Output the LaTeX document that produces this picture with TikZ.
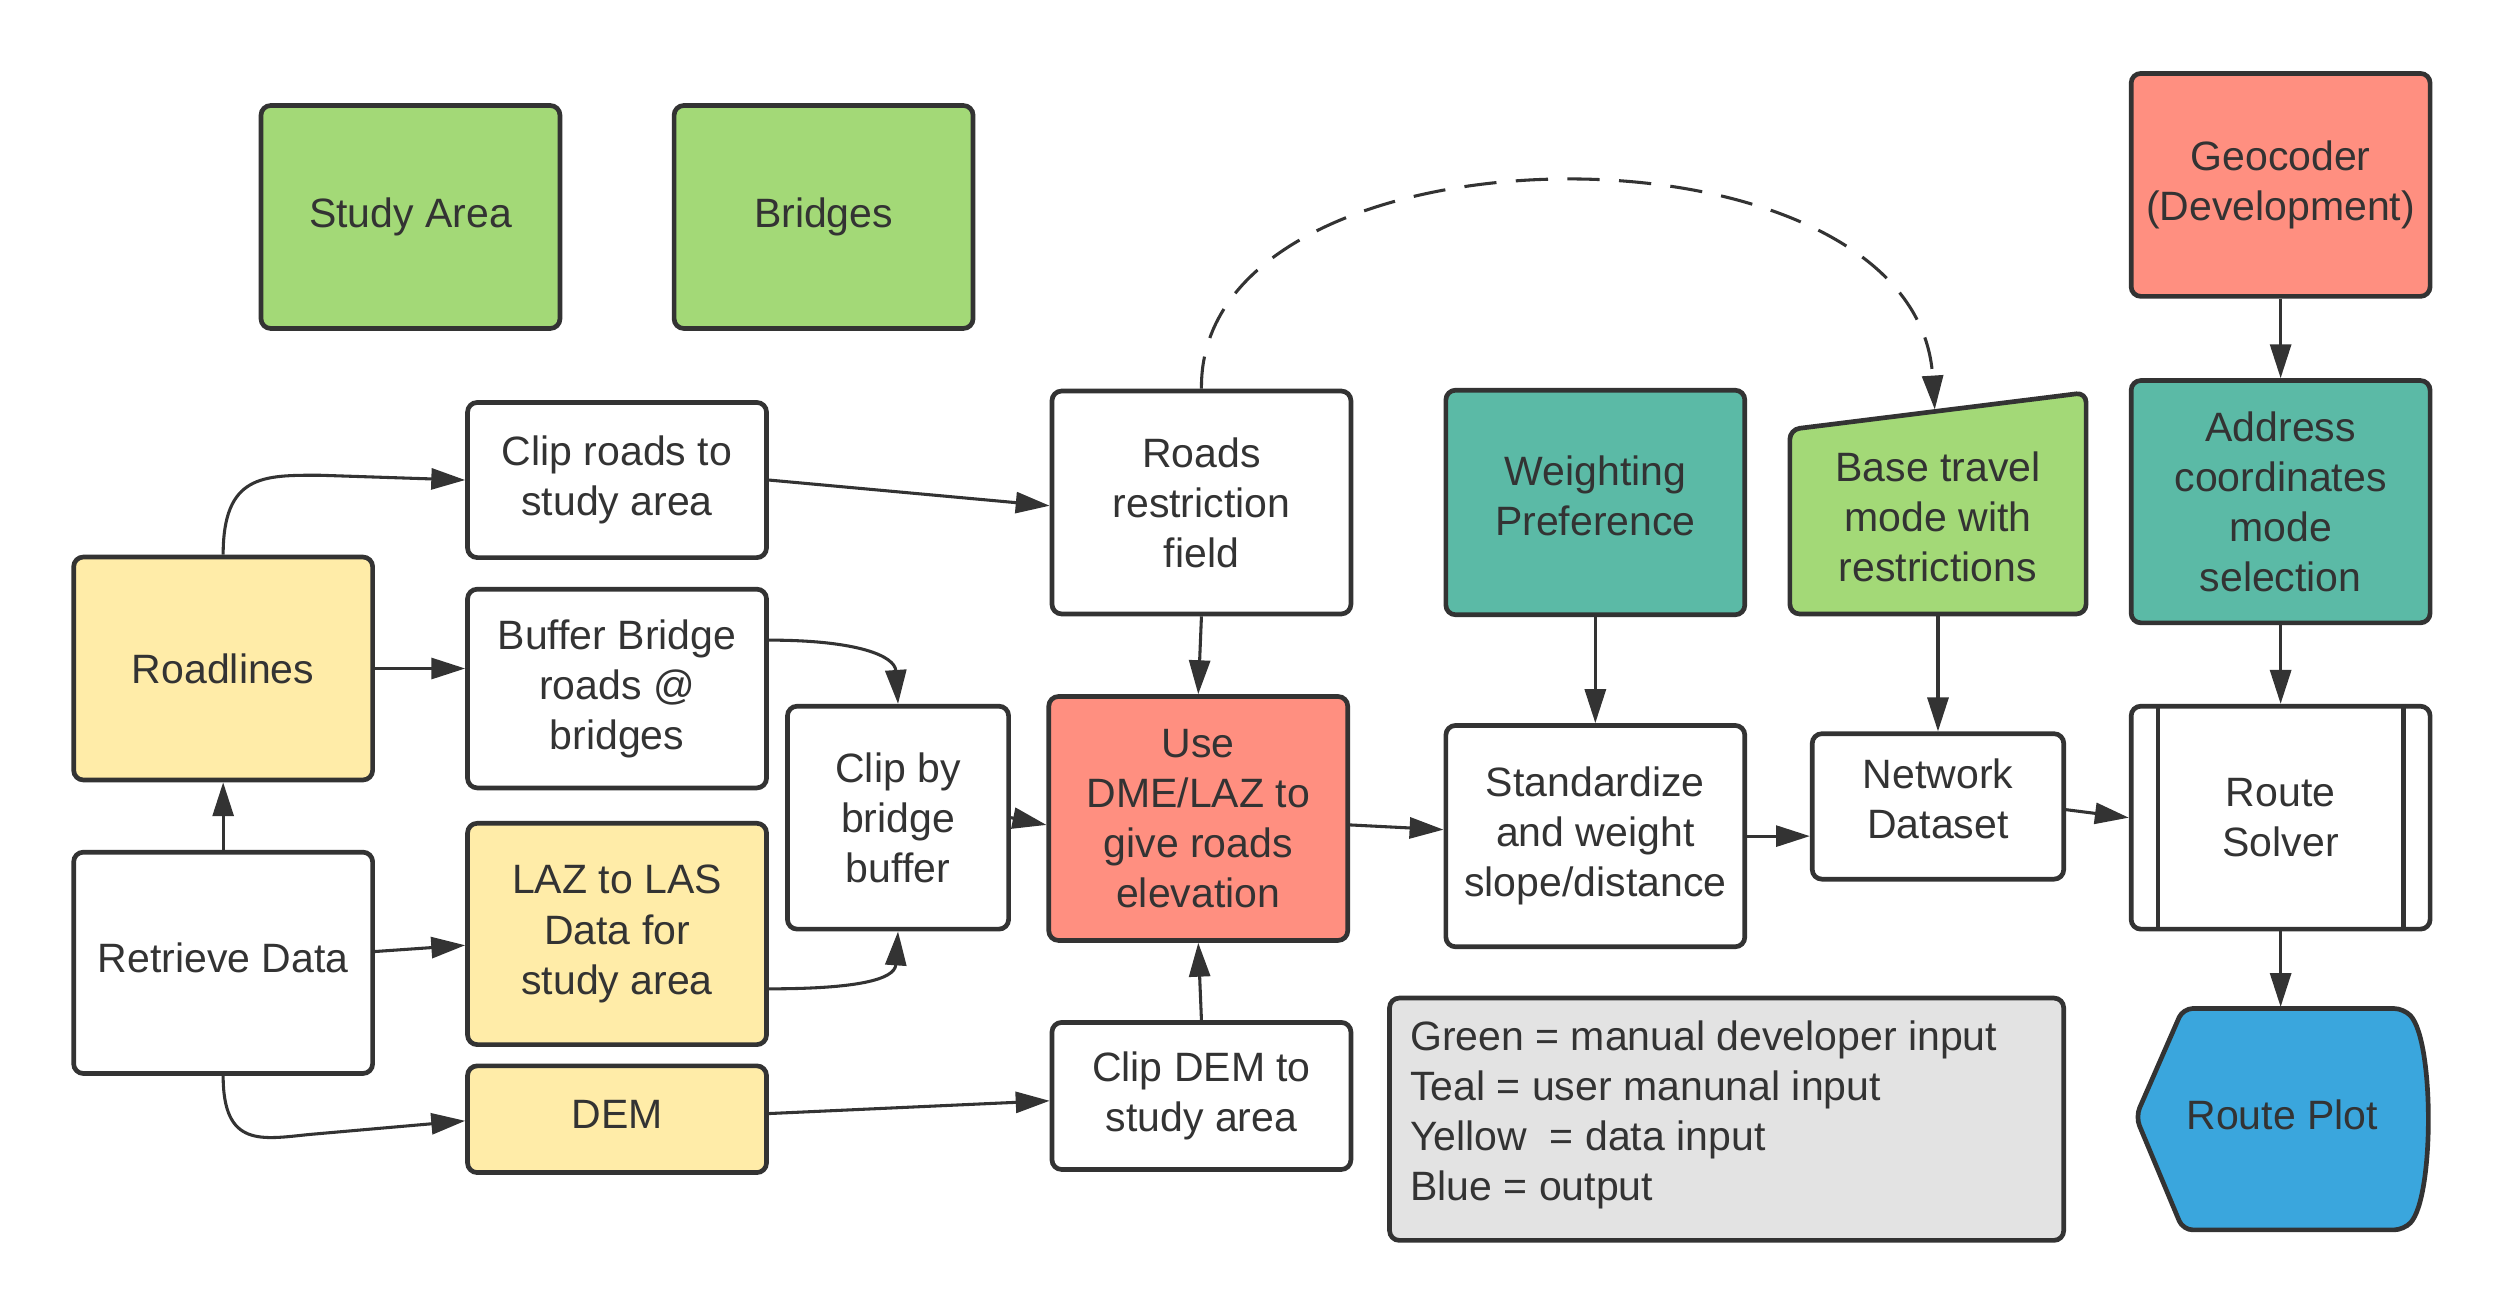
\documentclass[tikz,border=0pt]{standalone}
\usepackage{fontspec}
\setmainfont{Liberation Sans}
\usetikzlibrary{arrows.meta,calc}
\definecolor{dk}{HTML}{333333}
\definecolor{grn}{HTML}{A3D977}
\definecolor{teal}{HTML}{5BBAA6}
\definecolor{salm}{HTML}{FF8F80}
\definecolor{yel}{HTML}{FFECA8}
\definecolor{blu}{HTML}{3AA6DD}
\definecolor{lgr}{HTML}{E3E3E3}
\newcommand\boxfont{\fontsize{12.7}{15.5}\selectfont}
\begin{document}
\begin{tikzpicture}[x=0.495925pt,y=-0.4968pt,
  box/.style={draw=dk, line width=1.45pt, rounded corners=3pt, align=center, text=dk, font=\boxfont, inner sep=2pt, fill=white, minimum width=92.6pt},
  big/.style={minimum height=69.05pt},
  arr/.style={draw=dk, line width=0.95pt, -{Triangle[length=10.5pt,width=6.5pt]}},
  lbl/.style={align=center, text=dk, font=\boxfont, inner sep=0pt}]
\useasboundingbox (1.63,0.71) rectangle (1567.4,819.95);

% top row
\node[box, big, fill=grn] (study) at (258,136) {Study Area};
\node[box, big, fill=grn] (bridges) at (516,136) {Bridges};
\node[box, big, fill=salm] (geocoder) at (1426,116) {Geocoder\\(Development)};

% second row
\node[box, minimum height=48.05pt] (cliproads) at (387,300) {Clip roads to\\study area};
\node[box, big] (roadsrestr) at (752,314) {Roads\\restriction\\field};
\node[box, minimum height=69.55pt, fill=teal, text depth=4pt] (weighting) at (998,314) {Weighting\\Preference};
\draw[draw=dk, fill=grn, line width=1.45pt, rounded corners=3pt]
  (1119.5,383.5) -- (1119.5,268.5) -- (1304.5,245.5) -- (1304.5,383.5) -- cycle;
\node[lbl] (base) at (1212,323) {Base travel\\mode with\\restrictions};
\coordinate (basetop) at (1210,256);
\coordinate (basebot) at (1212,385);
\node[box, minimum height=75.05pt, fill=teal] (address) at (1426,313.5) {Address\\coordinates\\mode\\selection};

% middle
\node[box, big, fill=yel] (roadlines) at (141,417.5) {Roadlines};
\node[box, minimum height=61.55pt] (buffer) at (387,430) {Buffer Bridge\\roads @\\bridges};
\node[box, minimum width=68.5pt, minimum height=69.05pt] (clipbridge) at (562.5,510.5) {Clip by\\bridge\\buffer};
\node[box, minimum height=75.55pt, fill=salm] (usedme) at (750,511) {Use\\DME/LAZ to\\give roads\\elevation};
\node[box, minimum height=68.55pt] (standardize) at (998,522) {Standardize\\and weight\\slope/distance};
\node[box, minimum width=77.9pt, minimum height=45.05pt, text depth=5pt] (network) at (1212,503.5) {Network\\Dataset};
\node[box, big] (solver) at (1426,510.5) {Route\\Solver};
\draw[dk, line width=1.45pt] ([xshift=9pt]solver.north west) -- ([xshift=9pt]solver.south west);
\draw[dk, line width=1.45pt] ([xshift=-9pt]solver.north east) -- ([xshift=-9pt]solver.south east);

% bottom
\node[box, minimum height=68.55pt, text depth=3pt] (retrieve) at (141,601) {Retrieve Data};
\node[box, minimum height=68.55pt, fill=yel] (laz) at (387,583) {LAZ to LAS\\Data for\\study area};
\node[box, minimum height=33.05pt, fill=yel, text depth=3pt] (dem) at (387,698.5) {DEM};
\node[box, minimum height=45.55pt] (clipdem) at (752,684) {Clip DEM to\\study area};

% legend
\node[box, minimum width=208.8pt, minimum height=75.05pt, fill=lgr] (legend) at (1080,698.5) {};
\node[lbl, anchor=west, align=left] (legendtext) at (882,696) {Green = manual developer input\\Teal = user manunal input\\Yellow\ \ = data input\\Blue = output};

% route plot
\draw[draw=dk, fill=blu, line width=1.45pt, rounded corners=3pt]
  (1335.5,697) -- (1365,629.5) -- (1503,629.5) .. controls (1522,650) and (1522,747) .. (1503,767.5) -- (1365,767.5) -- cycle;
\node[lbl] (plot) at (1427,696) {Route Plot};
\coordinate (plottop) at (1426,628.5);

% connectors
\draw[arr] (roadlines.north) .. controls +(0,-50) and +(-35,0) .. (201,297) -- (cliproads.west);
\draw[arr] (roadlines.east) -- (roadlines.east -| buffer.west);
\draw[arr] (retrieve.north) -- (roadlines.south);
\draw[arr] ([yshift=3.5pt]retrieve.east) -- ([yshift=-3.5pt]laz.west);
\draw[arr] (retrieve.south) .. controls +(0,45) and +(-30,3) .. (195,708) -- ([yshift=-0.5pt]dem.west);
\draw[arr] (cliproads.east) -- ([yshift=-1pt]roadsrestr.west);
\draw[arr] ([yshift=15pt]buffer.east) .. controls +(55,0) and +(-2,-30) .. (clipbridge.north);
\draw[arr] ([yshift=-17pt]laz.east) .. controls +(55,0) and +(-2,30) .. (clipbridge.south);
\draw[arr] (clipbridge.east) -- ([yshift=-2pt]usedme.west);
\draw[arr] (roadsrestr.south) -- (usedme.north);
\draw[arr] (clipdem.north) -- (usedme.south);
\draw[arr] ([yshift=1.75pt]dem.east) -- ([yshift=-1.5pt]clipdem.west);
\draw[arr] ([yshift=-2pt]usedme.east) -- ([yshift=2pt]standardize.west);
\draw[arr] (standardize.east) -- (standardize.east -| network.west);
\draw[arr] ([yshift=-1pt]network.east) -- (solver.west);
\draw[arr] (weighting.south) -- (standardize.north);
\draw[arr] (basebot) -- (network.north);
\draw[arr] (geocoder.south) -- (address.north);
\draw[arr] (address.south) -- (solver.north);
\draw[arr] (solver.south) -- (plottop);
\draw[arr, dash pattern=on 10pt off 6pt] (roadsrestr.north) .. controls (750,72) and (1198,68) .. (basetop);
\end{tikzpicture}
\end{document}
